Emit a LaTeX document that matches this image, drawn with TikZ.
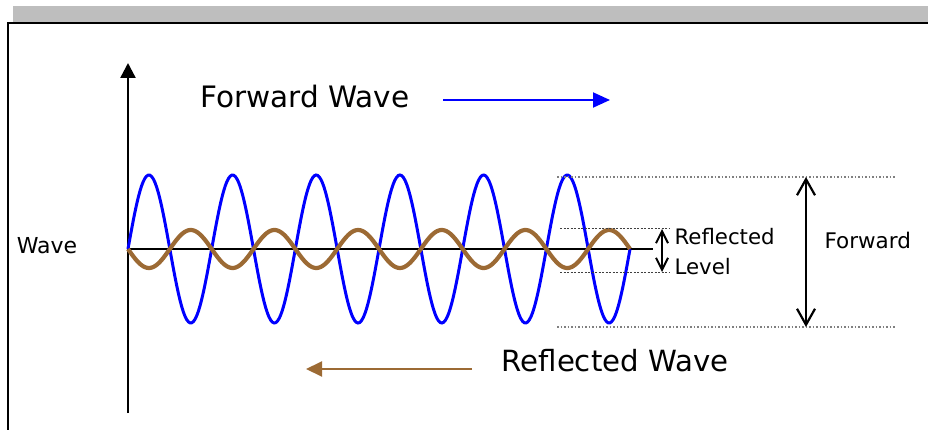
\documentclass[tikz,border=0pt]{standalone}
\usepackage{fontspec}
\setmainfont{DejaVu Sans}
\usepackage{tikz}
\usetikzlibrary{arrows.meta}
\definecolor{wavebrown}{RGB}{156,106,52}
\definecolor{bargray}{RGB}{190,190,190}

\begin{document}
\begin{tikzpicture} [x = 1pt, y = -1pt]
	\useasboundingbox (0,0) rectangle (928,430);
	\fill [bargray] (13,6) rectangle (928,22);
	\draw [line width = 2.4pt] (928,23) -- (8,23) -- (8,430);
	\coordinate (origin) at (128,249);
	\coordinate (ytop) at (128,63);
	\coordinate (ybot) at (128,413);
	\coordinate (xend) at (653,249);
	\draw [line width = 2.4pt, -{Triangle[length=15pt,width=15pt]}] (ybot) -- (ytop);
	\draw [line width = 2.2pt] (origin) -- (xend);
	\draw [blue, line width = 3pt, domain = 0:6, samples=300, smooth] plot ({128+83.67*\x}, {249-74*sin(\x*360)});
	\draw [wavebrown, line width = 4.2pt, domain = 0:6, samples=300, smooth] plot ({128+83.67*\x}, {249+19*sin(\x*360)});
	% level guides
	\draw [gray, line width = 1.2pt, dash pattern = on 1.5pt off 2pt] (557,177) coordinate (ftopl) -- (895,177) coordinate (ftopr);
	\draw [gray, line width = 1.2pt, dash pattern = on 1.5pt off 2pt] (557,327) coordinate (fbotl) -- (895,327) coordinate (fbotr);
	\draw [black!75, line width = 1pt, dash pattern = on 2pt off 1.5pt] (560,229) coordinate (rtopl) -- (670,229) coordinate (rtopr);
	\draw [black!75, line width = 1pt, dash pattern = on 2pt off 1.5pt] (560,272) coordinate (rbotl) -- (670,272) coordinate (rbotr);
	\coordinate (rtop) at (662,229);
	\coordinate (rbot) at (662,272);
	\coordinate (ftop) at (806,177);
	\coordinate (fbot) at (806,327);
	\draw [line width = 2pt, {Straight Barb[length=12pt,width=12pt]}-{Straight Barb[length=12pt,width=12pt]}] (rtop) -- (rbot);
	\draw [line width = 2.2pt, {Straight Barb[length=16pt,width=18pt]}-{Straight Barb[length=16pt,width=18pt]}] (ftop) -- (fbot);
	\node [anchor = west, font = \fontsize{21.3}{24}\selectfont] (refl) at (671,237) {Reflected};
	\node [anchor = west, font = \fontsize{21.3}{24}\selectfont] (level) at (671,267) {Level};
	\node [anchor = west, font = \fontsize{21.5}{24}\selectfont] (fwd) at (821,240) {Forward};
	\node [font = \fontsize{22}{24}\selectfont] (wave) at (47,246) {Wave};
	% direction labels
	\node [font = \fontsize{29.5}{32}\selectfont] (fwave) at (305,97) {Forward Wave};
	\node [font = \fontsize{29.2}{32}\selectfont] (rwave) at (615,361) {Reflected Wave};
	\coordinate (fa) at (443,100);
	\coordinate (fb) at (610,100);
	\coordinate (ra) at (472,369);
	\coordinate (rb) at (306,369);
	\draw [blue, line width = 2pt, -{Triangle[length=17pt,width=15pt]}] (fa) -- (fb);
	\draw [wavebrown, line width = 2pt, -{Triangle[length=16pt,width=15pt]}] (ra) -- (rb);
\end{tikzpicture}
\end{document}
